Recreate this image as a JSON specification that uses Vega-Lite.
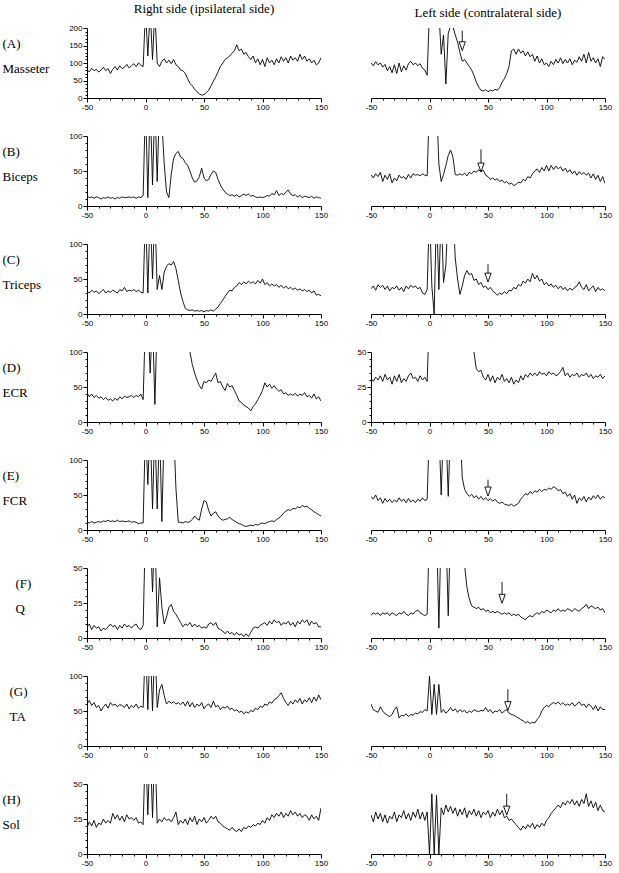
{
"$schema":"https://vega.github.io/schema/vega-lite/v6.json",
"padding":{"left":2,"top":3,"right":2,"bottom":2},
"config":{"view":{"stroke":null},"axis":{"grid":false,"domainColor":"black","tickColor":"black","labelColor":"black","labelFont":"Liberation Sans","labelFontSize":8,"labelPadding":1,"domainWidth":1,"tickWidth":1,"titleFont":"Liberation Serif","titleFontSize":13,"titleFontWeight":"normal","titleColor":"black"},"title":{"font":"Liberation Serif","fontSize":13,"fontWeight":"normal","color":"black","offset":8}},
"datasets":{
"tr":[
{"k":"AR","t":[-50,-48,-46,-44,-42,-40,-38,-36,-34,-32,-30,-28,-26,-24,-22,-20,-18,-16,-14,-12,-10,-8,-6,-4,-2,0,2,4,6,8,10,12,14,16,18,20,22,24,26,28,30,32,34,36,38,40,42,44,46,48,50,52,54,56,58,60,62,64,66,68,70,72,74,76,78,80,82,84,86,88,90,92,94,96,98,100,102,104,106,108,110,112,114,116,118,120,122,124,126,128,130,132,134,136,138,140,142,144,146,148,150],"v":[80,75,85,78,82,74,80,88,78,84,70,82,90,80,92,84,88,96,86,92,98,90,100,94,90,250,120,250,110,250,100,90,105,112,100,108,98,110,95,90,80,78,70,55,42,35,25,18,12,8,10,15,22,35,48,60,75,90,100,110,115,120,128,135,152,135,140,125,130,118,110,120,100,112,95,110,90,115,100,108,95,112,100,118,105,115,100,120,108,115,105,125,110,120,105,112,100,108,95,100,115]},
{"k":"AL","t":[-50,-48,-46,-44,-42,-40,-38,-36,-34,-32,-30,-28,-26,-24,-22,-20,-18,-16,-14,-12,-10,-8,-6,-4,-2,0,2,4,6,8,10,12,14,16,18,20,22,24,26,28,30,32,34,36,38,40,42,44,46,48,50,52,54,56,58,60,62,64,66,68,70,72,74,76,78,80,82,84,86,88,90,92,94,96,98,100,102,104,106,108,110,112,114,116,118,120,122,124,126,128,130,132,134,136,138,140,142,144,146,148,150],"v":[100,92,104,95,100,88,96,78,90,72,95,70,100,75,92,80,98,105,95,100,92,98,85,80,65,250,250,250,250,250,125,180,40,185,205,205,180,160,130,105,110,100,90,80,65,45,32,22,20,24,18,22,20,25,22,30,45,55,70,90,135,140,125,140,128,135,120,132,118,125,105,120,100,112,95,100,90,105,95,110,100,115,98,110,100,112,95,108,102,118,105,125,100,130,105,115,100,112,90,118,110]},
{"k":"BR","t":[-50,-48,-46,-44,-42,-40,-38,-36,-34,-32,-30,-28,-26,-24,-22,-20,-18,-16,-14,-12,-10,-8,-6,-4,-2,0,2,4,6,8,10,12,14,16,18,20,22,24,26,28,30,32,34,36,38,40,42,44,46,48,50,52,54,56,58,60,62,64,66,68,70,72,74,76,78,80,82,84,86,88,90,92,94,96,98,100,102,104,106,108,110,112,114,116,118,120,122,124,126,128,130,132,134,136,138,140,142,144,146,148,150],"v":[14,12,13,11,13,12,10,12,11,13,11,12,10,12,11,13,12,12,13,12,13,11,13,12,15,150,12,150,30,150,35,150,120,60,20,12,45,68,75,78,70,68,62,58,50,40,34,36,42,54,40,36,38,45,50,48,38,30,24,20,17,15,16,14,16,13,15,17,15,17,14,15,13,12,13,12,13,15,14,18,16,22,15,18,16,20,23,17,15,16,13,15,12,14,13,12,14,11,13,12,11]},
{"k":"BL","t":[-50,-48,-46,-44,-42,-40,-38,-36,-34,-32,-30,-28,-26,-24,-22,-20,-18,-16,-14,-12,-10,-8,-6,-4,-2,0,2,4,6,8,10,12,14,16,18,20,22,24,26,28,30,32,34,36,38,40,42,44,46,48,50,52,54,56,58,60,62,64,66,68,70,72,74,76,78,80,82,84,86,88,90,92,94,96,98,100,102,104,106,108,110,112,114,116,118,120,122,124,126,128,130,132,134,136,138,140,142,144,146,148,150],"v":[45,40,46,42,48,35,44,38,46,33,40,36,44,40,42,38,45,40,46,44,45,43,46,44,43,150,150,150,150,60,35,45,58,72,80,70,45,44,46,44,47,43,48,46,50,48,52,49,51,44,42,38,40,37,39,35,37,33,35,31,33,29,31,34,33,38,36,42,40,46,50,53,48,55,50,58,50,58,52,57,53,56,50,54,48,52,46,50,44,49,45,48,44,47,40,46,38,44,35,42,32]},
{"k":"CR","t":[-50,-48,-46,-44,-42,-40,-38,-36,-34,-32,-30,-28,-26,-24,-22,-20,-18,-16,-14,-12,-10,-8,-6,-4,-2,0,2,4,6,8,10,12,14,16,18,20,22,24,26,28,30,32,34,36,38,40,42,44,46,48,50,52,54,56,58,60,62,64,66,68,70,72,74,76,78,80,82,84,86,88,90,92,94,96,98,100,102,104,106,108,110,112,114,116,118,120,122,124,126,128,130,132,134,136,138,140,142,144,146,148,150],"v":[32,30,34,31,33,29,32,35,30,33,31,34,32,30,35,33,38,32,34,33,35,32,34,31,30,150,30,150,50,150,35,55,35,60,68,72,70,75,65,48,30,18,8,6,5,6,4,5,4,5,3,5,4,6,4,7,10,15,20,25,30,34,33,38,40,45,42,46,43,47,44,46,43,48,44,50,42,45,40,43,40,42,38,41,37,40,36,38,35,37,34,36,33,35,32,34,30,33,27,28,26]},
{"k":"CL","t":[-50,-48,-46,-44,-42,-40,-38,-36,-34,-32,-30,-28,-26,-24,-22,-20,-18,-16,-14,-12,-10,-8,-6,-4,-2,0,2,4,6,8,10,12,14,16,18,20,22,24,26,28,30,32,34,36,38,40,42,44,46,48,50,52,54,56,58,60,62,64,66,68,70,72,74,76,78,80,82,84,86,88,90,92,94,96,98,100,102,104,106,108,110,112,114,116,118,120,122,124,126,128,130,132,134,136,138,140,142,144,146,148,150],"v":[36,40,34,42,38,41,35,40,33,38,36,40,34,38,32,40,36,41,38,40,36,38,30,28,35,150,40,0,150,35,150,45,70,150,150,150,80,50,28,40,55,62,56,58,48,50,42,45,38,40,35,38,33,30,27,30,28,32,29,34,33,38,36,42,40,47,44,50,46,58,50,55,47,50,42,45,40,43,38,41,36,40,35,38,33,37,34,38,40,46,38,35,42,33,37,40,32,38,34,36,33]},
{"k":"DR","t":[-50,-48,-46,-44,-42,-40,-38,-36,-34,-32,-30,-28,-26,-24,-22,-20,-18,-16,-14,-12,-10,-8,-6,-4,-2,0,2,4,6,8,10,12,14,16,18,20,22,24,26,28,30,32,34,36,38,40,42,44,46,48,50,52,54,56,58,60,62,64,66,68,70,72,74,76,78,80,82,84,86,88,90,92,94,96,98,100,102,104,106,108,110,112,114,116,118,120,122,124,126,128,130,132,134,136,138,140,142,144,146,148,150],"v":[42,36,40,35,38,34,36,32,35,31,33,30,34,31,36,33,37,35,36,38,35,38,36,40,32,150,150,70,150,25,150,150,150,150,150,150,150,150,150,150,150,150,150,150,100,82,70,60,52,47,58,56,60,58,64,70,56,58,50,45,55,50,52,45,38,30,28,24,22,20,16,22,26,32,38,45,56,50,54,48,52,47,44,46,40,42,38,40,38,41,37,40,38,42,36,38,34,40,33,36,30]},
{"k":"DL","t":[-50,-48,-46,-44,-42,-40,-38,-36,-34,-32,-30,-28,-26,-24,-22,-20,-18,-16,-14,-12,-10,-8,-6,-4,-2,0,2,4,6,8,10,12,14,16,18,20,22,24,26,28,30,32,34,36,38,40,42,44,46,48,50,52,54,56,58,60,62,64,66,68,70,72,74,76,78,80,82,84,86,88,90,92,94,96,98,100,102,104,106,108,110,112,114,116,118,120,122,124,126,128,130,132,134,136,138,140,142,144,146,148,150],"v":[31,29,32,30,33,29,34,30,32,27,33,29,34,28,31,29,33,35,31,32,29,33,30,32,29,80,80,80,80,80,80,80,80,80,80,80,80,80,80,80,80,80,80,80,50,38,36,37,32,30,34,29,33,28,32,30,34,29,31,28,32,27,30,28,33,30,34,32,35,33,35,33,36,34,35,33,36,34,35,33,34,36,39,33,35,32,34,33,35,32,34,33,35,32,34,31,33,32,34,31,33]},
{"k":"ER","t":[-50,-48,-46,-44,-42,-40,-38,-36,-34,-32,-30,-28,-26,-24,-22,-20,-18,-16,-14,-12,-10,-8,-6,-4,-2,0,2,4,6,8,10,12,14,16,18,20,22,24,26,28,30,32,34,36,38,40,42,44,46,48,50,52,54,56,58,60,62,64,66,68,70,72,74,76,78,80,82,84,86,88,90,92,94,96,98,100,102,104,106,108,110,112,114,116,118,120,122,124,126,128,130,132,134,136,138,140,142,144,146,148,150],"v":[11,10,12,10,11,12,11,13,12,14,12,13,12,14,12,13,12,12,13,11,12,11,9,10,10,150,65,150,30,150,30,150,12,150,150,150,150,150,60,11,11,10,12,11,12,15,20,16,14,30,42,40,28,20,24,26,20,16,14,15,16,18,15,13,11,9,8,6,5,6,7,6,8,7,9,10,9,11,12,13,12,15,17,20,24,27,29,28,31,30,33,32,35,33,34,31,29,26,24,22,20]},
{"k":"EL","t":[-50,-48,-46,-44,-42,-40,-38,-36,-34,-32,-30,-28,-26,-24,-22,-20,-18,-16,-14,-12,-10,-8,-6,-4,-2,0,2,4,6,8,10,12,14,16,18,20,22,24,26,28,30,32,34,36,38,40,42,44,46,48,50,52,54,56,58,60,62,64,66,68,70,72,74,76,78,80,82,84,86,88,90,92,94,96,98,100,102,104,106,108,110,112,114,116,118,120,122,124,126,128,130,132,134,136,138,140,142,144,146,148,150],"v":[48,44,50,42,46,38,45,40,44,39,43,40,46,41,44,39,45,40,43,39,44,41,46,42,44,150,150,150,150,150,50,150,150,48,150,150,150,150,150,75,58,52,48,51,46,49,44,48,43,46,42,45,41,44,40,38,40,37,36,35,37,34,36,38,44,48,52,50,55,52,56,54,58,55,58,57,60,58,62,60,56,58,52,54,48,52,44,50,38,46,42,48,40,47,43,49,45,50,44,48,46]},
{"k":"FR","t":[-50,-48,-46,-44,-42,-40,-38,-36,-34,-32,-30,-28,-26,-24,-22,-20,-18,-16,-14,-12,-10,-8,-6,-4,-2,0,2,4,6,8,10,12,14,16,18,20,22,24,26,28,30,32,34,36,38,40,42,44,46,48,50,52,54,56,58,60,62,64,66,68,70,72,74,76,78,80,82,84,86,88,90,92,94,96,98,100,102,104,106,108,110,112,114,116,118,120,122,124,126,128,130,132,134,136,138,140,142,144,146,148,150],"v":[8,10,6,9,7,8,5,7,6,8,10,8,9,6,9,7,10,8,9,7,9,10,7,6,9,80,80,80,33,80,8,43,22,10,15,22,24,19,17,14,11,8,10,9,11,8,10,8,9,7,8,7,10,11,9,11,7,6,5,3,5,3,4,2,4,2,3,1,3,1,4,7,8,7,9,10,11,9,12,10,13,11,12,9,11,10,12,9,11,8,12,10,13,11,13,9,12,10,11,8,8]},
{"k":"FL","t":[-50,-48,-46,-44,-42,-40,-38,-36,-34,-32,-30,-28,-26,-24,-22,-20,-18,-16,-14,-12,-10,-8,-6,-4,-2,0,2,4,6,8,10,12,14,16,18,20,22,24,26,28,30,32,34,36,38,40,42,44,46,48,50,52,54,56,58,60,62,64,66,68,70,72,74,76,78,80,82,84,86,88,90,92,94,96,98,100,102,104,106,108,110,112,114,116,118,120,122,124,126,128,130,132,134,136,138,140,142,144,146,148,150],"v":[16,18,17,18,16,18,17,18,16,18,17,16,18,17,19,17,16,18,17,19,20,18,17,16,17,80,80,80,80,7,80,80,80,16,80,80,80,80,80,80,52,36,28,23,22,21,22,20,21,19,20,18,19,18,19,18,17,18,17,18,16,17,16,17,15,14,13,15,16,15,17,18,17,19,18,20,19,18,20,19,21,19,20,19,21,20,19,21,20,19,21,22,24,21,23,22,21,22,20,21,18]},
{"k":"GR","t":[-50,-48,-46,-44,-42,-40,-38,-36,-34,-32,-30,-28,-26,-24,-22,-20,-18,-16,-14,-12,-10,-8,-6,-4,-2,0,2,4,6,8,10,12,14,16,18,20,22,24,26,28,30,32,34,36,38,40,42,44,46,48,50,52,54,56,58,60,62,64,66,68,70,72,74,76,78,80,82,84,86,88,90,92,94,96,98,100,102,104,106,108,110,112,114,116,118,120,122,124,126,128,130,132,134,136,138,140,142,144,146,148,150],"v":[60,65,58,62,55,58,50,56,60,54,62,58,60,56,59,58,55,60,53,58,55,60,54,57,55,150,52,150,50,150,55,80,88,72,60,64,61,63,60,62,59,63,57,64,56,62,55,60,57,62,53,58,60,55,64,56,58,52,56,54,57,52,54,50,52,48,50,46,49,47,51,49,54,52,57,55,60,58,63,61,66,68,72,76,68,62,58,64,60,66,62,68,60,66,63,69,62,70,64,73,66]},
{"k":"GL","t":[-50,-48,-46,-44,-42,-40,-38,-36,-34,-32,-30,-28,-26,-24,-22,-20,-18,-16,-14,-12,-10,-8,-6,-4,-2,0,2,4,6,8,10,12,14,16,18,20,22,24,26,28,30,32,34,36,38,40,42,44,46,48,50,52,54,56,58,60,62,64,66,68,70,72,74,76,78,80,82,84,86,88,90,92,94,96,98,100,102,104,106,108,110,112,114,116,118,120,122,124,126,128,130,132,134,136,138,140,142,144,146,148,150],"v":[60,52,50,48,56,50,46,44,42,45,52,56,40,44,43,46,42,45,44,47,46,49,48,52,50,100,45,88,45,88,48,52,47,50,55,50,53,48,52,49,51,47,50,48,52,50,49,51,50,55,49,52,47,50,49,52,47,50,52,47,45,44,42,40,38,36,33,35,32,34,33,38,42,50,55,58,56,60,62,60,63,59,62,58,60,58,62,57,60,63,58,60,55,60,57,52,58,50,56,52,52]},
{"k":"HR","t":[-50,-48,-46,-44,-42,-40,-38,-36,-34,-32,-30,-28,-26,-24,-22,-20,-18,-16,-14,-12,-10,-8,-6,-4,-2,0,2,4,6,8,10,12,14,16,18,20,22,24,26,28,30,32,34,36,38,40,42,44,46,48,50,52,54,56,58,60,62,64,66,68,70,72,74,76,78,80,82,84,86,88,90,92,94,96,98,100,102,104,106,108,110,112,114,116,118,120,122,124,126,128,130,132,134,136,138,140,142,144,146,148,150],"v":[19,23,20,24,19,22,21,25,22,24,22,29,25,28,24,27,23,28,25,26,24,26,22,23,21,80,28,80,26,80,22,25,23,26,24,25,23,26,30,21,24,22,25,21,26,23,27,21,25,23,26,22,24,27,25,27,23,22,20,19,18,17,19,17,16,18,16,19,18,20,19,21,20,22,21,24,22,26,24,28,26,29,27,30,26,29,27,31,28,30,27,29,26,28,27,24,28,25,27,24,33]},
{"k":"HL","t":[-50,-48,-46,-44,-42,-40,-38,-36,-34,-32,-30,-28,-26,-24,-22,-20,-18,-16,-14,-12,-10,-8,-6,-4,-2,0,2,4,6,8,10,12,14,16,18,20,22,24,26,28,30,32,34,36,38,40,42,44,46,48,50,52,54,56,58,60,62,64,66,68,70,72,74,76,78,80,82,84,86,88,90,92,94,96,98,100,102,104,106,108,110,112,114,116,118,120,122,124,126,128,130,132,134,136,138,140,142,144,146,148,150],"v":[28,23,30,25,29,23,28,22,27,25,30,23,28,26,31,25,29,24,30,26,32,25,30,24,30,0,43,0,42,0,33,28,35,30,34,29,33,27,32,28,33,26,31,28,32,27,31,26,30,28,31,26,30,27,32,28,31,26,27,24,25,23,21,19,17,20,18,21,19,22,18,21,19,22,20,24,26,29,31,33,35,33,37,35,38,36,39,35,38,34,39,36,43,34,38,33,37,31,35,31,30]}
],
"ar":[
{"k":"AL","t":28,"top":192,"hc":148},
{"k":"BL","t":44,"top":81,"hc":55},
{"k":"CL","t":50,"top":71,"hc":52},
{"k":"EL","t":50,"top":72,"hc":55},
{"k":"FL","t":62,"top":40,"hc":28},
{"k":"GL","t":67,"top":81,"hc":57},
{"k":"HL","t":66,"top":43,"hc":31}
]
},
"columns":2,
"bounds":"flush",
"spacing":{"row":38,"column":50},
"concat":[
{"width":234,"height":70,"title":{"text":"Right side (ipsilateral side)"},"data":{"name":"tr"},"transform":[{"filter":"datum.k === 'AR'"},{"flatten":["t","v"]}],"mark":{"type":"line","clip":true,"color":"black","strokeWidth":0.9},
"encoding":{"x":{"field":"t","type":"quantitative","scale":{"domain":[-50,150],"nice":false,"zero":false},"axis":{"values":[-50,-40,-30,-20,-10,0,10,20,30,40,50,60,70,80,90,100,110,120,130,140,150],"labelExpr":"datum.value % 50 === 0 ? '' + datum.value : ''","tickSize":{"condition":{"test":"datum.value % 50 === 0","value":4},"value":2},"labelFlush":false,"labelOverlap":false,"title":null}},
"y":{"field":"v","type":"quantitative","scale":{"domain":[0,200],"nice":false,"zero":false},"axis":{"values":[0,10,20,30,40,50,60,70,80,90,100,110,120,130,140,150,160,170,180,190,200],"labelExpr":"datum.value % 50 === 0 ? '' + datum.value : ''","tickSize":{"condition":{"test":"datum.value % 50 === 0","value":4},"value":2},"labelFlush":false,"labelOverlap":false,"title":["(A)","Masseter"],"titleAngle":0,"titleAlign":"left","titleBaseline":"top","titleX":-85,"titleY":9,"titleLineHeight":25}}}},
{"width":234,"height":70,"title":{"text":"Left side (contralateral side)"},
"encoding":{"x":{"field":"t","type":"quantitative","scale":{"domain":[-50,150],"nice":false,"zero":false},"axis":{"values":[-50,-40,-30,-20,-10,0,10,20,30,40,50,60,70,80,90,100,110,120,130,140,150],"labelExpr":"datum.value % 50 === 0 ? '' + datum.value : ''","tickSize":{"condition":{"test":"datum.value % 50 === 0","value":4},"value":2},"labelFlush":false,"labelOverlap":false,"title":null}}},
"layer":[
{"data":{"name":"tr"},"transform":[{"filter":"datum.k === 'AL'"},{"flatten":["t","v"]}],"mark":{"type":"line","clip":true,"color":"black","strokeWidth":0.9},"encoding":{"y":{"field":"v","type":"quantitative","scale":{"domain":[0,200],"nice":false,"zero":false},"axis":{"values":[0,10,20,30,40,50,60,70,80,90,100,110,120,130,140,150,160,170,180,190,200],"labelExpr":"datum.value % 50 === 0 ? '' + datum.value : ''","tickSize":{"condition":{"test":"datum.value % 50 === 0","value":4},"value":2},"labelFlush":false,"labelOverlap":false,"title":null}}}},
{"data":{"name":"ar"},"transform":[{"filter":"datum.k === 'AL'"}],"mark":{"type":"rule","color":"black","strokeWidth":0.9},"encoding":{"y":{"field":"top","type":"quantitative","scale":{"domain":[0,200],"nice":false,"zero":false},"axis":null},"y2":{"field":"hc"}}},
{"data":{"name":"ar"},"transform":[{"filter":"datum.k === 'AL'"}],"mark":{"type":"point","shape":"M-0.7,-1L0.7,-1L0,1Z","size":80,"filled":true,"fill":"white","stroke":"black","strokeWidth":0.9,"opacity":1},"encoding":{"y":{"field":"hc","type":"quantitative","scale":{"domain":[0,200],"nice":false,"zero":false},"axis":null}}}
]},
{"width":234,"height":70,"data":{"name":"tr"},"transform":[{"filter":"datum.k === 'BR'"},{"flatten":["t","v"]}],"mark":{"type":"line","clip":true,"color":"black","strokeWidth":0.9},
"encoding":{"x":{"field":"t","type":"quantitative","scale":{"domain":[-50,150],"nice":false,"zero":false},"axis":{"values":[-50,-40,-30,-20,-10,0,10,20,30,40,50,60,70,80,90,100,110,120,130,140,150],"labelExpr":"datum.value % 50 === 0 ? '' + datum.value : ''","tickSize":{"condition":{"test":"datum.value % 50 === 0","value":4},"value":2},"labelFlush":false,"labelOverlap":false,"title":null}},
"y":{"field":"v","type":"quantitative","scale":{"domain":[0,100],"nice":false,"zero":false},"axis":{"values":[0,10,20,30,40,50,60,70,80,90,100],"labelExpr":"datum.value % 50 === 0 ? '' + datum.value : ''","tickSize":{"condition":{"test":"datum.value % 50 === 0","value":4},"value":2},"labelFlush":false,"labelOverlap":false,"title":["(B)","Biceps"],"titleAngle":0,"titleAlign":"left","titleBaseline":"top","titleX":-85,"titleY":9,"titleLineHeight":25}}}},
{"width":234,"height":70,
"encoding":{"x":{"field":"t","type":"quantitative","scale":{"domain":[-50,150],"nice":false,"zero":false},"axis":{"values":[-50,-40,-30,-20,-10,0,10,20,30,40,50,60,70,80,90,100,110,120,130,140,150],"labelExpr":"datum.value % 50 === 0 ? '' + datum.value : ''","tickSize":{"condition":{"test":"datum.value % 50 === 0","value":4},"value":2},"labelFlush":false,"labelOverlap":false,"title":null}}},
"layer":[
{"data":{"name":"tr"},"transform":[{"filter":"datum.k === 'BL'"},{"flatten":["t","v"]}],"mark":{"type":"line","clip":true,"color":"black","strokeWidth":0.9},"encoding":{"y":{"field":"v","type":"quantitative","scale":{"domain":[0,100],"nice":false,"zero":false},"axis":{"values":[0,10,20,30,40,50,60,70,80,90,100],"labelExpr":"datum.value % 50 === 0 ? '' + datum.value : ''","tickSize":{"condition":{"test":"datum.value % 50 === 0","value":4},"value":2},"labelFlush":false,"labelOverlap":false,"title":null}}}},
{"data":{"name":"ar"},"transform":[{"filter":"datum.k === 'BL'"}],"mark":{"type":"rule","color":"black","strokeWidth":0.9},"encoding":{"y":{"field":"top","type":"quantitative","scale":{"domain":[0,100],"nice":false,"zero":false},"axis":null},"y2":{"field":"hc"}}},
{"data":{"name":"ar"},"transform":[{"filter":"datum.k === 'BL'"}],"mark":{"type":"point","shape":"M-0.7,-1L0.7,-1L0,1Z","size":80,"filled":true,"fill":"white","stroke":"black","strokeWidth":0.9,"opacity":1},"encoding":{"y":{"field":"hc","type":"quantitative","scale":{"domain":[0,100],"nice":false,"zero":false},"axis":null}}}
]},
{"width":234,"height":70,"data":{"name":"tr"},"transform":[{"filter":"datum.k === 'CR'"},{"flatten":["t","v"]}],"mark":{"type":"line","clip":true,"color":"black","strokeWidth":0.9},
"encoding":{"x":{"field":"t","type":"quantitative","scale":{"domain":[-50,150],"nice":false,"zero":false},"axis":{"values":[-50,-40,-30,-20,-10,0,10,20,30,40,50,60,70,80,90,100,110,120,130,140,150],"labelExpr":"datum.value % 50 === 0 ? '' + datum.value : ''","tickSize":{"condition":{"test":"datum.value % 50 === 0","value":4},"value":2},"labelFlush":false,"labelOverlap":false,"title":null}},
"y":{"field":"v","type":"quantitative","scale":{"domain":[0,100],"nice":false,"zero":false},"axis":{"values":[0,10,20,30,40,50,60,70,80,90,100],"labelExpr":"datum.value % 50 === 0 ? '' + datum.value : ''","tickSize":{"condition":{"test":"datum.value % 50 === 0","value":4},"value":2},"labelFlush":false,"labelOverlap":false,"title":["(C)","Triceps"],"titleAngle":0,"titleAlign":"left","titleBaseline":"top","titleX":-85,"titleY":9,"titleLineHeight":25}}}},
{"width":234,"height":70,
"encoding":{"x":{"field":"t","type":"quantitative","scale":{"domain":[-50,150],"nice":false,"zero":false},"axis":{"values":[-50,-40,-30,-20,-10,0,10,20,30,40,50,60,70,80,90,100,110,120,130,140,150],"labelExpr":"datum.value % 50 === 0 ? '' + datum.value : ''","tickSize":{"condition":{"test":"datum.value % 50 === 0","value":4},"value":2},"labelFlush":false,"labelOverlap":false,"title":null}}},
"layer":[
{"data":{"name":"tr"},"transform":[{"filter":"datum.k === 'CL'"},{"flatten":["t","v"]}],"mark":{"type":"line","clip":true,"color":"black","strokeWidth":0.9},"encoding":{"y":{"field":"v","type":"quantitative","scale":{"domain":[0,100],"nice":false,"zero":false},"axis":{"values":[0,10,20,30,40,50,60,70,80,90,100],"labelExpr":"datum.value % 50 === 0 ? '' + datum.value : ''","tickSize":{"condition":{"test":"datum.value % 50 === 0","value":4},"value":2},"labelFlush":false,"labelOverlap":false,"title":null}}}},
{"data":{"name":"ar"},"transform":[{"filter":"datum.k === 'CL'"}],"mark":{"type":"rule","color":"black","strokeWidth":0.9},"encoding":{"y":{"field":"top","type":"quantitative","scale":{"domain":[0,100],"nice":false,"zero":false},"axis":null},"y2":{"field":"hc"}}},
{"data":{"name":"ar"},"transform":[{"filter":"datum.k === 'CL'"}],"mark":{"type":"point","shape":"M-0.7,-1L0.7,-1L0,1Z","size":80,"filled":true,"fill":"white","stroke":"black","strokeWidth":0.9,"opacity":1},"encoding":{"y":{"field":"hc","type":"quantitative","scale":{"domain":[0,100],"nice":false,"zero":false},"axis":null}}}
]},
{"width":234,"height":70,"data":{"name":"tr"},"transform":[{"filter":"datum.k === 'DR'"},{"flatten":["t","v"]}],"mark":{"type":"line","clip":true,"color":"black","strokeWidth":0.9},
"encoding":{"x":{"field":"t","type":"quantitative","scale":{"domain":[-50,150],"nice":false,"zero":false},"axis":{"values":[-50,-40,-30,-20,-10,0,10,20,30,40,50,60,70,80,90,100,110,120,130,140,150],"labelExpr":"datum.value % 50 === 0 ? '' + datum.value : ''","tickSize":{"condition":{"test":"datum.value % 50 === 0","value":4},"value":2},"labelFlush":false,"labelOverlap":false,"title":null}},
"y":{"field":"v","type":"quantitative","scale":{"domain":[0,100],"nice":false,"zero":false},"axis":{"values":[0,10,20,30,40,50,60,70,80,90,100],"labelExpr":"datum.value % 50 === 0 ? '' + datum.value : ''","tickSize":{"condition":{"test":"datum.value % 50 === 0","value":4},"value":2},"labelFlush":false,"labelOverlap":false,"title":["(D)","ECR"],"titleAngle":0,"titleAlign":"left","titleBaseline":"top","titleX":-85,"titleY":9,"titleLineHeight":25}}}},
{"width":234,"height":70,"data":{"name":"tr"},"transform":[{"filter":"datum.k === 'DL'"},{"flatten":["t","v"]}],"mark":{"type":"line","clip":true,"color":"black","strokeWidth":0.9},
"encoding":{"x":{"field":"t","type":"quantitative","scale":{"domain":[-50,150],"nice":false,"zero":false},"axis":{"values":[-50,-40,-30,-20,-10,0,10,20,30,40,50,60,70,80,90,100,110,120,130,140,150],"labelExpr":"datum.value % 50 === 0 ? '' + datum.value : ''","tickSize":{"condition":{"test":"datum.value % 50 === 0","value":4},"value":2},"labelFlush":false,"labelOverlap":false,"title":null}},
"y":{"field":"v","type":"quantitative","scale":{"domain":[0,50],"nice":false,"zero":false},"axis":{"values":[0,5,10,15,20,25,30,35,40,45,50],"labelExpr":"datum.value % 25 === 0 ? '' + datum.value : ''","tickSize":{"condition":{"test":"datum.value % 25 === 0","value":4},"value":2},"labelFlush":false,"labelOverlap":false,"title":null}}}},
{"width":234,"height":70,"data":{"name":"tr"},"transform":[{"filter":"datum.k === 'ER'"},{"flatten":["t","v"]}],"mark":{"type":"line","clip":true,"color":"black","strokeWidth":0.9},
"encoding":{"x":{"field":"t","type":"quantitative","scale":{"domain":[-50,150],"nice":false,"zero":false},"axis":{"values":[-50,-40,-30,-20,-10,0,10,20,30,40,50,60,70,80,90,100,110,120,130,140,150],"labelExpr":"datum.value % 50 === 0 ? '' + datum.value : ''","tickSize":{"condition":{"test":"datum.value % 50 === 0","value":4},"value":2},"labelFlush":false,"labelOverlap":false,"title":null}},
"y":{"field":"v","type":"quantitative","scale":{"domain":[0,100],"nice":false,"zero":false},"axis":{"values":[0,10,20,30,40,50,60,70,80,90,100],"labelExpr":"datum.value % 50 === 0 ? '' + datum.value : ''","tickSize":{"condition":{"test":"datum.value % 50 === 0","value":4},"value":2},"labelFlush":false,"labelOverlap":false,"title":["(E)","FCR"],"titleAngle":0,"titleAlign":"left","titleBaseline":"top","titleX":-85,"titleY":9,"titleLineHeight":25}}}},
{"width":234,"height":70,
"encoding":{"x":{"field":"t","type":"quantitative","scale":{"domain":[-50,150],"nice":false,"zero":false},"axis":{"values":[-50,-40,-30,-20,-10,0,10,20,30,40,50,60,70,80,90,100,110,120,130,140,150],"labelExpr":"datum.value % 50 === 0 ? '' + datum.value : ''","tickSize":{"condition":{"test":"datum.value % 50 === 0","value":4},"value":2},"labelFlush":false,"labelOverlap":false,"title":null}}},
"layer":[
{"data":{"name":"tr"},"transform":[{"filter":"datum.k === 'EL'"},{"flatten":["t","v"]}],"mark":{"type":"line","clip":true,"color":"black","strokeWidth":0.9},"encoding":{"y":{"field":"v","type":"quantitative","scale":{"domain":[0,100],"nice":false,"zero":false},"axis":{"values":[0,10,20,30,40,50,60,70,80,90,100],"labelExpr":"datum.value % 50 === 0 ? '' + datum.value : ''","tickSize":{"condition":{"test":"datum.value % 50 === 0","value":4},"value":2},"labelFlush":false,"labelOverlap":false,"title":null}}}},
{"data":{"name":"ar"},"transform":[{"filter":"datum.k === 'EL'"}],"mark":{"type":"rule","color":"black","strokeWidth":0.9},"encoding":{"y":{"field":"top","type":"quantitative","scale":{"domain":[0,100],"nice":false,"zero":false},"axis":null},"y2":{"field":"hc"}}},
{"data":{"name":"ar"},"transform":[{"filter":"datum.k === 'EL'"}],"mark":{"type":"point","shape":"M-0.7,-1L0.7,-1L0,1Z","size":80,"filled":true,"fill":"white","stroke":"black","strokeWidth":0.9,"opacity":1},"encoding":{"y":{"field":"hc","type":"quantitative","scale":{"domain":[0,100],"nice":false,"zero":false},"axis":null}}}
]},
{"width":234,"height":70,"data":{"name":"tr"},"transform":[{"filter":"datum.k === 'FR'"},{"flatten":["t","v"]}],"mark":{"type":"line","clip":true,"color":"black","strokeWidth":0.9},
"encoding":{"x":{"field":"t","type":"quantitative","scale":{"domain":[-50,150],"nice":false,"zero":false},"axis":{"values":[-50,-40,-30,-20,-10,0,10,20,30,40,50,60,70,80,90,100,110,120,130,140,150],"labelExpr":"datum.value % 50 === 0 ? '' + datum.value : ''","tickSize":{"condition":{"test":"datum.value % 50 === 0","value":4},"value":2},"labelFlush":false,"labelOverlap":false,"title":null}},
"y":{"field":"v","type":"quantitative","scale":{"domain":[0,50],"nice":false,"zero":false},"axis":{"values":[0,5,10,15,20,25,30,35,40,45,50],"labelExpr":"datum.value % 25 === 0 ? '' + datum.value : ''","tickSize":{"condition":{"test":"datum.value % 25 === 0","value":4},"value":2},"labelFlush":false,"labelOverlap":false,"title":["(F)","Q"],"titleAngle":0,"titleAlign":"left","titleBaseline":"top","titleX":-72,"titleY":9,"titleLineHeight":25}}}},
{"width":234,"height":70,
"encoding":{"x":{"field":"t","type":"quantitative","scale":{"domain":[-50,150],"nice":false,"zero":false},"axis":{"values":[-50,-40,-30,-20,-10,0,10,20,30,40,50,60,70,80,90,100,110,120,130,140,150],"labelExpr":"datum.value % 50 === 0 ? '' + datum.value : ''","tickSize":{"condition":{"test":"datum.value % 50 === 0","value":4},"value":2},"labelFlush":false,"labelOverlap":false,"title":null}}},
"layer":[
{"data":{"name":"tr"},"transform":[{"filter":"datum.k === 'FL'"},{"flatten":["t","v"]}],"mark":{"type":"line","clip":true,"color":"black","strokeWidth":0.9},"encoding":{"y":{"field":"v","type":"quantitative","scale":{"domain":[0,50],"nice":false,"zero":false},"axis":{"values":[0,5,10,15,20,25,30,35,40,45,50],"labelExpr":"datum.value % 25 === 0 ? '' + datum.value : ''","tickSize":{"condition":{"test":"datum.value % 25 === 0","value":4},"value":2},"labelFlush":false,"labelOverlap":false,"title":null}}}},
{"data":{"name":"ar"},"transform":[{"filter":"datum.k === 'FL'"}],"mark":{"type":"rule","color":"black","strokeWidth":0.9},"encoding":{"y":{"field":"top","type":"quantitative","scale":{"domain":[0,50],"nice":false,"zero":false},"axis":null},"y2":{"field":"hc"}}},
{"data":{"name":"ar"},"transform":[{"filter":"datum.k === 'FL'"}],"mark":{"type":"point","shape":"M-0.7,-1L0.7,-1L0,1Z","size":80,"filled":true,"fill":"white","stroke":"black","strokeWidth":0.9,"opacity":1},"encoding":{"y":{"field":"hc","type":"quantitative","scale":{"domain":[0,50],"nice":false,"zero":false},"axis":null}}}
]},
{"width":234,"height":70,"data":{"name":"tr"},"transform":[{"filter":"datum.k === 'GR'"},{"flatten":["t","v"]}],"mark":{"type":"line","clip":true,"color":"black","strokeWidth":0.9},
"encoding":{"x":{"field":"t","type":"quantitative","scale":{"domain":[-50,150],"nice":false,"zero":false},"axis":{"values":[-50,-40,-30,-20,-10,0,10,20,30,40,50,60,70,80,90,100,110,120,130,140,150],"labelExpr":"datum.value % 50 === 0 ? '' + datum.value : ''","tickSize":{"condition":{"test":"datum.value % 50 === 0","value":4},"value":2},"labelFlush":false,"labelOverlap":false,"title":null}},
"y":{"field":"v","type":"quantitative","scale":{"domain":[0,100],"nice":false,"zero":false},"axis":{"values":[0,10,20,30,40,50,60,70,80,90,100],"labelExpr":"datum.value % 50 === 0 ? '' + datum.value : ''","tickSize":{"condition":{"test":"datum.value % 50 === 0","value":4},"value":2},"labelFlush":false,"labelOverlap":false,"title":["(G)","TA"],"titleAngle":0,"titleAlign":"left","titleBaseline":"top","titleX":-78,"titleY":9,"titleLineHeight":25}}}},
{"width":234,"height":70,
"encoding":{"x":{"field":"t","type":"quantitative","scale":{"domain":[-50,150],"nice":false,"zero":false},"axis":{"values":[-50,-40,-30,-20,-10,0,10,20,30,40,50,60,70,80,90,100,110,120,130,140,150],"labelExpr":"datum.value % 50 === 0 ? '' + datum.value : ''","tickSize":{"condition":{"test":"datum.value % 50 === 0","value":4},"value":2},"labelFlush":false,"labelOverlap":false,"title":null}}},
"layer":[
{"data":{"name":"tr"},"transform":[{"filter":"datum.k === 'GL'"},{"flatten":["t","v"]}],"mark":{"type":"line","clip":true,"color":"black","strokeWidth":0.9},"encoding":{"y":{"field":"v","type":"quantitative","scale":{"domain":[0,100],"nice":false,"zero":false},"axis":{"values":[0,10,20,30,40,50,60,70,80,90,100],"labelExpr":"datum.value % 50 === 0 ? '' + datum.value : ''","tickSize":{"condition":{"test":"datum.value % 50 === 0","value":4},"value":2},"labelFlush":false,"labelOverlap":false,"title":null}}}},
{"data":{"name":"ar"},"transform":[{"filter":"datum.k === 'GL'"}],"mark":{"type":"rule","color":"black","strokeWidth":0.9},"encoding":{"y":{"field":"top","type":"quantitative","scale":{"domain":[0,100],"nice":false,"zero":false},"axis":null},"y2":{"field":"hc"}}},
{"data":{"name":"ar"},"transform":[{"filter":"datum.k === 'GL'"}],"mark":{"type":"point","shape":"M-0.7,-1L0.7,-1L0,1Z","size":80,"filled":true,"fill":"white","stroke":"black","strokeWidth":0.9,"opacity":1},"encoding":{"y":{"field":"hc","type":"quantitative","scale":{"domain":[0,100],"nice":false,"zero":false},"axis":null}}}
]},
{"width":234,"height":70,"data":{"name":"tr"},"transform":[{"filter":"datum.k === 'HR'"},{"flatten":["t","v"]}],"mark":{"type":"line","clip":true,"color":"black","strokeWidth":0.9},
"encoding":{"x":{"field":"t","type":"quantitative","scale":{"domain":[-50,150],"nice":false,"zero":false},"axis":{"values":[-50,-40,-30,-20,-10,0,10,20,30,40,50,60,70,80,90,100,110,120,130,140,150],"labelExpr":"datum.value % 50 === 0 ? '' + datum.value : ''","tickSize":{"condition":{"test":"datum.value % 50 === 0","value":4},"value":2},"labelFlush":false,"labelOverlap":false,"title":null}},
"y":{"field":"v","type":"quantitative","scale":{"domain":[0,50],"nice":false,"zero":false},"axis":{"values":[0,5,10,15,20,25,30,35,40,45,50],"labelExpr":"datum.value % 25 === 0 ? '' + datum.value : ''","tickSize":{"condition":{"test":"datum.value % 25 === 0","value":4},"value":2},"labelFlush":false,"labelOverlap":false,"title":["(H)","Sol"],"titleAngle":0,"titleAlign":"left","titleBaseline":"top","titleX":-85,"titleY":9,"titleLineHeight":25}}}},
{"width":234,"height":70,
"encoding":{"x":{"field":"t","type":"quantitative","scale":{"domain":[-50,150],"nice":false,"zero":false},"axis":{"values":[-50,-40,-30,-20,-10,0,10,20,30,40,50,60,70,80,90,100,110,120,130,140,150],"labelExpr":"datum.value % 50 === 0 ? '' + datum.value : ''","tickSize":{"condition":{"test":"datum.value % 50 === 0","value":4},"value":2},"labelFlush":false,"labelOverlap":false,"title":null}}},
"layer":[
{"data":{"name":"tr"},"transform":[{"filter":"datum.k === 'HL'"},{"flatten":["t","v"]}],"mark":{"type":"line","clip":true,"color":"black","strokeWidth":0.9},"encoding":{"y":{"field":"v","type":"quantitative","scale":{"domain":[0,50],"nice":false,"zero":false},"axis":{"values":[0,5,10,15,20,25,30,35,40,45,50],"labelExpr":"datum.value % 25 === 0 ? '' + datum.value : ''","tickSize":{"condition":{"test":"datum.value % 25 === 0","value":4},"value":2},"labelFlush":false,"labelOverlap":false,"title":null}}}},
{"data":{"name":"ar"},"transform":[{"filter":"datum.k === 'HL'"}],"mark":{"type":"rule","color":"black","strokeWidth":0.9},"encoding":{"y":{"field":"top","type":"quantitative","scale":{"domain":[0,50],"nice":false,"zero":false},"axis":null},"y2":{"field":"hc"}}},
{"data":{"name":"ar"},"transform":[{"filter":"datum.k === 'HL'"}],"mark":{"type":"point","shape":"M-0.7,-1L0.7,-1L0,1Z","size":80,"filled":true,"fill":"white","stroke":"black","strokeWidth":0.9,"opacity":1},"encoding":{"y":{"field":"hc","type":"quantitative","scale":{"domain":[0,50],"nice":false,"zero":false},"axis":null}}}
]}
]
}
